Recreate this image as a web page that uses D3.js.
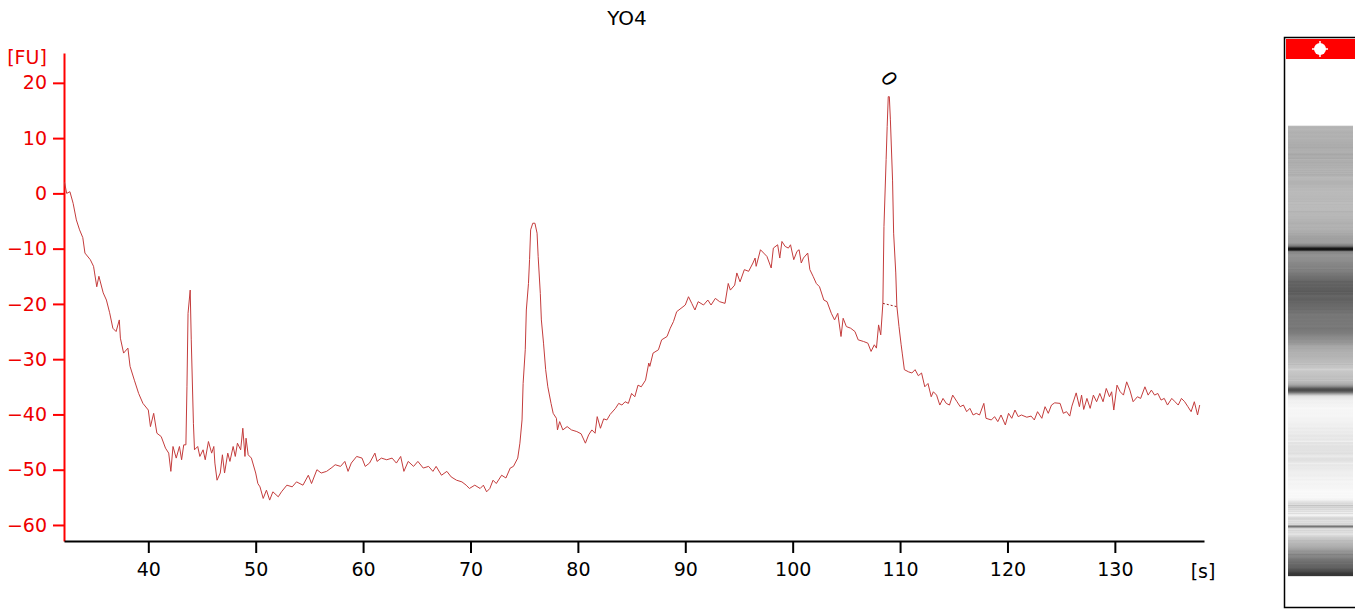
<!DOCTYPE html>
<html>
<head>
<meta charset="utf-8">
<script src="https://cdn.jsdelivr.net/npm/d3@7"></script>
<style>
  html, body { margin: 0; padding: 0; background: #fff; }
  svg { display: block; font-family: "DejaVu Sans", Verdana, sans-serif; }
</style>
</head>
<body>
<svg id="chart" width="1355" height="609"></svg>
<script>
// electropherogram YO4, values
var times = [
  32.2, 32.4, 32.7, 33.0, 33.3, 33.6, 33.9, 34.1, 34.6, 34.9, 35.0, 35.2, 35.4, 35.8, 36.1, 36.4, 36.7, 37.0, 37.3, 37.4,
  37.7, 38.1, 38.3, 38.7, 39.1, 39.5, 40.0, 40.2, 40.5, 40.8, 41.2, 41.6, 41.9, 42.1, 42.3, 42.6, 42.9, 43.1, 43.3, 43.5,
  43.6, 43.7, 43.9, 44.0, 44.2, 44.3, 44.6, 44.8, 45.1, 45.3, 45.6, 45.9, 46.1, 46.2, 46.4, 46.7, 46.9, 47.1, 47.4, 47.6,
  47.9, 48.1, 48.3, 48.6, 48.8, 49.0, 49.1, 49.3, 49.6, 50.0, 50.2, 50.4, 50.7, 51.0, 51.3, 51.6, 52.1, 52.4, 52.9, 53.4,
  53.8, 54.4, 54.9, 55.2, 55.7, 56.1, 56.6, 57.1, 57.4, 57.9, 58.3, 58.6, 58.9, 59.4, 59.9, 60.2, 60.6, 61.1, 61.3, 61.7,
  62.2, 62.7, 63.1, 63.5, 63.8, 64.2, 64.7, 65.1, 65.6, 66.1, 66.5, 66.8, 67.3, 67.8, 68.2, 68.7, 69.2, 69.6, 69.9, 70.4,
  70.9, 71.2, 71.5, 71.8, 72.1, 72.4, 72.9, 73.3, 73.7, 74.0, 74.4, 74.6, 74.8, 74.9, 75.1, 75.2, 75.4, 75.5, 75.6, 75.8,
  76.0, 76.2, 76.3, 76.5, 76.6, 76.8, 77.0, 77.2, 77.5, 77.7, 78.0, 78.1, 78.3, 78.6, 79.0, 79.4, 79.9, 80.3, 80.7, 81.0,
  81.3, 81.6, 81.8, 82.1, 82.4, 82.7, 83.0, 83.5, 83.8, 84.1, 84.4, 84.7, 85.0, 85.3, 85.6, 85.9, 86.3, 86.6, 86.7, 87.0,
  87.5, 87.8, 88.3, 88.6, 88.9, 89.2, 89.6, 90.0, 90.3, 90.6, 90.9, 91.2, 91.7, 92.1, 92.4, 92.8, 93.2, 93.7, 94.0, 94.2,
  94.6, 94.8, 95.1, 95.5, 95.9, 96.3, 96.5, 96.6, 97.0, 97.3, 97.6, 98.0, 98.2, 98.6, 98.8, 99.0, 99.3, 99.6, 99.8, 100.1,
  100.4, 100.6, 100.8, 101.0, 101.4, 101.6, 101.9, 102.2, 102.5, 102.9, 103.2, 103.6, 103.9, 104.2, 104.5, 104.7, 105.0, 105.4, 105.8, 106.1,
  106.6, 107.0, 107.3, 107.6, 107.8, 108.0, 108.2, 108.4, 108.5, 108.7, 108.8, 108.9, 109.0, 109.1, 109.3, 109.4, 109.6, 109.7, 109.9, 110.1,
  110.2, 110.4, 110.8, 111.1, 111.4, 111.7, 112.0, 112.3, 112.6, 112.9, 113.1, 113.4, 113.7, 114.0, 114.3, 114.6, 114.9, 115.3, 115.6, 115.9,
  116.2, 116.5, 116.8, 117.1, 117.4, 117.8, 118.0, 118.5, 118.8, 119.1, 119.4, 119.8, 120.1, 120.4, 120.7, 121.0, 121.3, 121.8, 122.2, 122.5,
  122.8, 123.2, 123.5, 123.8, 124.1, 124.4, 124.9, 125.2, 125.5, 125.8, 126.0, 126.4, 126.7, 126.9, 127.1, 127.4, 127.7, 128.0, 128.3, 128.6,
  128.9, 129.2, 129.5, 129.7, 129.9, 130.2, 130.5, 130.8, 131.1, 131.4, 131.7, 132.1, 132.4, 132.8, 133.1, 133.4, 133.7, 134.0, 134.3, 134.6,
  134.9, 135.3, 135.6, 135.9, 136.2, 136.5, 136.8, 137.1, 137.4, 137.7, 137.9
];
var fu = [
  2, 0, 0.3, -1.8, -4.8, -6.6, -8, -10.8, -12, -13.2, -14.4, -16.9, -15, -18, -19.3, -21.6, -24.4, -25, -22.9, -26.2,
  -28.9, -28, -31.3, -33.8, -36.2, -38, -39.2, -42.2, -39.8, -43.4, -44, -46.1, -47, -50.3, -45.8, -47.9, -45.8, -48.2, -45.5, -45.5,
  -35, -21.7, -17.5, -26.5, -41.6, -46.4, -45.8, -47.6, -46.4, -48.2, -44.9, -47, -45.8, -48.8, -51.9, -50.6, -47.3, -50.6, -47, -48.5,
  -45.8, -47.6, -45.2, -46.4, -42.5, -47.6, -44.3, -47.3, -47.9, -50.6, -52.5, -53.1, -55.2, -53.7, -55.5, -54, -54.9, -54, -52.8, -53.1,
  -52.2, -52.8, -51, -52.5, -50, -50.6, -50.3, -49.6, -49.1, -49.4, -48.5, -50.3, -48.8, -47.6, -47.9, -49.4, -48.8, -47, -48.5, -47.9,
  -48.2, -47.9, -48.8, -47.6, -50.3, -48.5, -49.4, -48.5, -49.7, -49.4, -50.3, -49.4, -51, -50.3, -51.3, -51.9, -52.2, -52.8, -53.4, -52.8,
  -53.4, -52.8, -54, -53.4, -51.9, -52.5, -51, -51.5, -49.7, -49.4, -47.9, -45.2, -41, -34.4, -28.3, -21.1, -16.3, -12, -6.6, -5.4,
  -5.4, -7.2, -11.4, -18.1, -22.9, -27.1, -31.9, -35, -38, -39.8, -40.7, -42.8, -41.3, -42.8, -42.2, -42.8, -43.1, -43.5, -45.2, -43.7,
  -42.8, -43.4, -40.4, -42.5, -40.8, -41, -40, -38.9, -38, -38.3, -37.7, -38, -36.2, -36.8, -34.7, -35, -33.8, -30.7, -31.3, -28.9,
  -28.3, -26.5, -25.9, -24.4, -23.2, -21.4, -20.8, -20.2, -18.7, -19.9, -21.1, -19.6, -20.2, -19.3, -20.2, -19, -19.6, -19.9, -16.3, -17.5,
  -16.6, -14.4, -16, -13.8, -14.1, -12.6, -11.7, -13.2, -10.2, -10.8, -11.4, -13.5, -9.9, -9.3, -11.7, -8.7, -9.6, -9.9, -9.3, -12,
  -10.5, -10.2, -12.6, -11.7, -10.8, -13.8, -15, -16.3, -16.9, -19.3, -19.6, -21.7, -22.9, -21.7, -25.9, -22.6, -24.1, -24.4, -25, -26.5,
  -26.8, -27.1, -28.6, -27.4, -28, -23.8, -25.6, -19.9, -6, 6.1, 12.1, 17.5, 17.5, 13.3, 2.4, -7.2, -14.4, -20.4, -24.1, -27.4,
  -28.9, -31.9, -32.3, -32.5, -31.9, -33, -32.5, -35, -34.4, -36.8, -35.9, -36.5, -38.3, -37.1, -38, -38.3, -36.5, -37.7, -38.6, -38.3,
  -39.5, -38.9, -40.1, -39.8, -40.1, -38, -40.7, -41, -40.4, -41.3, -40.1, -41.9, -39.8, -40.7, -39.2, -40.4, -40.1, -40.5, -40.3, -41,
  -39.5, -40.7, -38.6, -39.8, -38.3, -37.9, -38, -39.8, -39.5, -40.3, -38.5, -36.1, -38.6, -36.5, -39.1, -37.1, -38.9, -36.5, -37.7, -36.2,
  -37.7, -35.3, -36.8, -35.9, -39.2, -34.7, -35.9, -36.5, -34.1, -35.6, -37.7, -36.8, -37.1, -35, -36.5, -35.6, -36.5, -36.2, -37.4, -37.1,
  -38.3, -37.1, -37.7, -38.3, -37.1, -37.7, -38.6, -39.5, -37.7, -40.1, -38.3
];

var xTicks = [40, 50, 60, 70, 80, 90, 100, 110, 120, 130];
var yTicks = [20, 10, 0, -10, -20, -30, -40, -50, -60];

// the peak that got a number, and its baseline
var peakTimes = [109.0];
var peakValues = [17.5];
var peakLabels = ["0"];
var baseTimes = [108.4, 109.7];
var baseValues = [-19.9, -20.5];

var data = times.map(function (t, i) { return { t: t, v: fu[i] }; });

var svg = d3.select("#chart");

var x = d3.scaleLinear().domain([32.15, 138.3]).range([64, 1204]);
var y = d3.scaleLinear().domain([-62.9, 25.4]).range([541, 53]);

// title
svg.append("text")
    .attr("x", 627).attr("y", 25)
    .attr("text-anchor", "middle")
    .style("font-size", "20px")
    .text("YO4");

// y axis (red)
var yAxis = svg.append("g")
    .attr("transform", "translate(64,0)")
    .call(d3.axisLeft(y).tickValues(yTicks).tickSize(11).tickPadding(6).tickSizeOuter(0));
yAxis.select(".domain").attr("stroke", "#f00").attr("stroke-width", 2);
yAxis.selectAll(".tick line").attr("stroke", "#f00").attr("stroke-width", 2);
yAxis.selectAll(".tick text").attr("fill", "#e00").style("font-size", "19px").style("font-family", "DejaVu Sans");

svg.append("text")
    .attr("x", 27).attr("y", 64)
    .attr("text-anchor", "middle")
    .attr("fill", "#e00")
    .style("font-size", "19px")
    .text("[FU]");

// x axis (black)
var xAxis = svg.append("g")
    .attr("transform", "translate(0,541)")
    .call(d3.axisBottom(x).tickValues(xTicks).tickSize(12).tickPadding(10).tickSizeOuter(0));
xAxis.select(".domain").attr("stroke", "#000").attr("stroke-width", 2);
xAxis.selectAll(".tick line").attr("stroke", "#000").attr("stroke-width", 2);
xAxis.selectAll(".tick text").attr("fill", "#000").style("font-size", "19px").style("font-family", "DejaVu Sans");

svg.append("text")
    .attr("x", 1203).attr("y", 578)
    .attr("text-anchor", "middle")
    .style("font-size", "19px")
    .text("[s]");

// the trace
var line = d3.line().x(function (d) { return x(d.t); }).y(function (d) { return y(d.v); });
svg.append("path")
    .datum(data)
    .attr("d", line)
    .attr("fill", "none")
    .attr("stroke", "#c43c3c")
    .attr("stroke-width", 1);

// dashed peak baseline
svg.append("path")
    .datum(baseTimes.map(function (t, i) { return { t: t, v: baseValues[i] }; }))
    .attr("d", line)
    .attr("fill", "none")
    .attr("stroke", "#a02020")
    .attr("stroke-width", 1)
    .attr("stroke-dasharray", "2,2");

// peak number, tilted
peakTimes.forEach(function (t, i) {
    var px = x(t), py = y(peakValues[i]) - 18;
    svg.append("text")
        .attr("transform", "translate(" + px + "," + py + ") rotate(55)")
        .attr("text-anchor", "middle")
        .attr("dy", "0.36em")
        .style("font-size", "20px")
        .text(peakLabels[i]);
});

// gel lane on the right
var lane = d3.scaleLinear().domain([32.0, 137.6]).range([577, 127]);
var gray = d3.scaleLinear()
    .domain([-55, -50, -42, -36, -20, -10, 0, 18])
    .range([250, 238, 190, 172, 120, 95, 55, 15])
    .clamp(true);

var grad = svg.append("defs").append("linearGradient")
    .attr("id", "gel")
    .attr("gradientUnits", "userSpaceOnUse")
    .attr("x1", 0).attr("x2", 0)
    .attr("y1", lane(times[0])).attr("y2", lane(times[times.length - 1]));
var t0 = times[0], t1 = times[times.length - 1];
grad.selectAll("stop")
    .data(data)
    .enter().append("stop")
    .attr("offset", function (d) { return (d.t - t0) / (t1 - t0); })
    .attr("stop-color", function (d) { var g = Math.round(gray(d.v)); return d3.rgb(g, g, g); });

svg.append("rect")
    .attr("x", 1288).attr("width", 65)
    .attr("y", lane(t1)).attr("height", lane(t0) - lane(t1))
    .attr("fill", "url(#gel)");

// frame + red header with the marker dot
svg.append("path")
    .attr("d", "M1356,37.5 H1284.5 V607.5 H1356")
    .attr("fill", "none")
    .attr("stroke", "#000")
    .attr("stroke-width", 1.5);
svg.append("rect")
    .attr("x", 1286).attr("y", 39).attr("width", 70).attr("height", 20)
    .attr("fill", "#f00");
svg.append("circle")
    .attr("cx", 1320).attr("cy", 49).attr("r", 6)
    .attr("fill", "#fff");
svg.append("path")
    .attr("d", "M1320,41 V57 M1312,49 H1328")
    .attr("stroke", "#fff")
    .attr("stroke-width", 1.5);
</script>
</body>
</html>
